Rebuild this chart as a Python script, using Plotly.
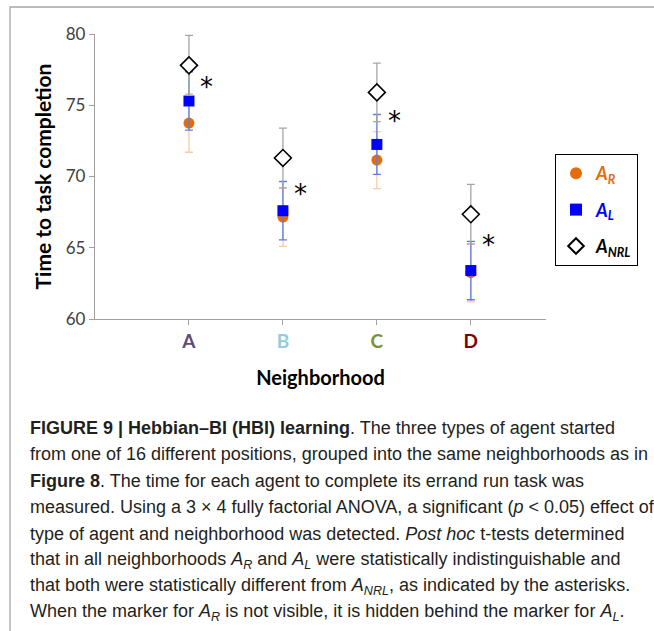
import plotly.graph_objects as go

# Neighborhoods on the x axis and their tick colours
neighborhoods = ["A", "B", "C", "D"]
tick_colors = ["#604A7B", "#93CDDD", "#77933C", "#7F0000"]

# Mean time to task completion and error for each agent type
ar_mean = [73.75, 67.15, 71.15, 63.25]
ar_err = [2.05, 2.05, 2.0, 2.05]
al_mean = [75.3, 67.6, 72.25, 63.4]
al_err = [2.05, 2.05, 2.1, 2.05]
nrl_mean = [77.8, 71.3, 75.9, 67.35]
nrl_err = [2.1, 2.1, 2.05, 2.1]

# Significance markers (asterisks) next to each neighborhood
star_y = [76.5, 69.0, 74.1, 65.4]

y_ticks = [60, 65, 70, 75, 80]

caption_lines = [
    "<b>FIGURE 9 | Hebbian–BI (HBI) learning</b>. The three types of agent started",
    "from one of 16 different positions, grouped into the same neighborhoods as in",
    "<b>Figure 8</b>. The time for each agent to complete its errand run task was",
    "measured. Using a 3 × 4 fully factorial ANOVA, a significant (<i>p</i> &lt; 0.05) effect of",
    "type of agent and neighborhood was detected. <i>Post hoc</i> t-tests determined",
    "that in all neighborhoods <i>A</i><sub><i>R</i></sub> and <i>A</i><sub><i>L</i></sub> were statistically indistinguishable and",
    "that both were statistically different from <i>A</i><sub><i>NRL</i></sub>, as indicated by the asterisks.",
    "When the marker for <i>A</i><sub><i>R</i></sub> is not visible, it is hidden behind the marker for <i>A</i><sub><i>L</i></sub>.",
]

x_pos = list(range(1, len(neighborhoods) + 1))

W, H = 654, 631
M_L, M_R, M_T, M_B = 95, 108, 34, 312
PW = W - M_L - M_R
PH = H - M_T - M_B


def px_x(x):
    return (x - M_L) / PW


def px_y(y):
    return (H - M_B - y) / PH


CHART_FONT = "Lato, Open Sans, sans-serif"

fig = go.Figure()

fig.add_trace(go.Scatter(
    x=x_pos, y=ar_mean, mode="markers",
    name="<span style='color:#E46C0A'><b><i>A<sub>R</sub></i></b></span>",
    marker=dict(symbol="circle", size=11, color="#E46C0A"),
    error_y=dict(type="data", array=ar_err, color="#F8CBA4", thickness=1.3, width=4),
    legendgroup="ar",
))
fig.add_trace(go.Scatter(
    x=x_pos, y=al_mean, mode="markers",
    name="<span style='color:#0000FF'><b><i>A<sub>L</sub></i></b></span>",
    marker=dict(symbol="square", size=11, color="#0000FF"),
    error_y=dict(type="data", array=al_err, color="#5B7BE8", thickness=1.3, width=4),
    legendgroup="al",
))
fig.add_trace(go.Scatter(
    x=x_pos, y=nrl_mean, mode="markers",
    name="<span style='color:#000000'><b><i>A<sub>NRL</sub></i></b></span>",
    marker=dict(symbol="diamond", size=13, color="white",
                line=dict(color="black", width=1.6)),
    error_y=dict(type="data", array=nrl_err, color="#A6A6A6", thickness=1.3, width=4),
    legendgroup="nrl",
))

tick_text = [f"<b><span style='color:{c}'>{n}</span></b>"
             for n, c in zip(neighborhoods, tick_colors)]

fig.update_xaxes(
    range=[0, 4.8], tickvals=x_pos, ticktext=tick_text,
    showline=True, linecolor="#A0A0A0", linewidth=1.3,
    ticks="outside", ticklen=5, tickcolor="#A0A0A0", tickwidth=1.3,
    showgrid=False, zeroline=False,
    tickfont=dict(family=CHART_FONT, size=19),
    title=dict(text="<b>Neighborhood</b>", standoff=20,
               font=dict(family=CHART_FONT, size=20, color="#000000")),
)
fig.update_yaxes(
    range=[60, 80], tickvals=y_ticks,
    showline=True, linecolor="#A0A0A0", linewidth=1.3,
    ticks="outside", ticklen=5, tickcolor="#A0A0A0", tickwidth=1.3,
    showgrid=False, zeroline=False,
    tickfont=dict(family=CHART_FONT, size=17, color="#404040"),
    title=dict(text="<b>Time to task completion</b>", standoff=8,
               font=dict(family=CHART_FONT, size=21, color="#000000")),
)

annotations = []

# Asterisks marking significant differences, just right of each group
for x, y in zip(x_pos, star_y):
    annotations.append(dict(
        xref="x", yref="y", x=x + 0.19, y=y, text="*",
        showarrow=False, xanchor="center", yanchor="middle", yshift=-3,
        font=dict(family="DejaVu Sans, sans-serif", size=26, color="#000000"),
    ))

for i, line in enumerate(caption_lines):
    annotations.append(dict(
        xref="paper", yref="paper", x=px_x(28), y=px_y(428 + i * 26.4),
        xanchor="left", yanchor="middle", align="left", showarrow=False,
        text=line,
        font=dict(family="Liberation Sans, Arial, sans-serif", size=18, color="#231F20"),
    ))

fig.update_layout(
    width=W, height=H,
    margin=dict(l=M_L, r=M_R, t=M_T, b=M_B),
    paper_bgcolor="white", plot_bgcolor="white",
    showlegend=True,
    legend=dict(
        x=px_x(555), y=px_y(154), xanchor="left", yanchor="top",
        bordercolor="#000000", borderwidth=1, bgcolor="white",
        font=dict(family=CHART_FONT, size=18),
        traceorder="grouped", tracegroupgap=10,
        itemsizing="constant",
    ),
    annotations=annotations,
    shapes=[dict(
        type="rect", xref="paper", yref="paper",
        x0=px_x(10), x1=px_x(670), y0=px_y(660), y1=px_y(7),
        line=dict(color="#A6A6A6", width=1.3), fillcolor="rgba(0,0,0,0)",
        layer="below",
    )],
)

fig.write_html("out.html")
